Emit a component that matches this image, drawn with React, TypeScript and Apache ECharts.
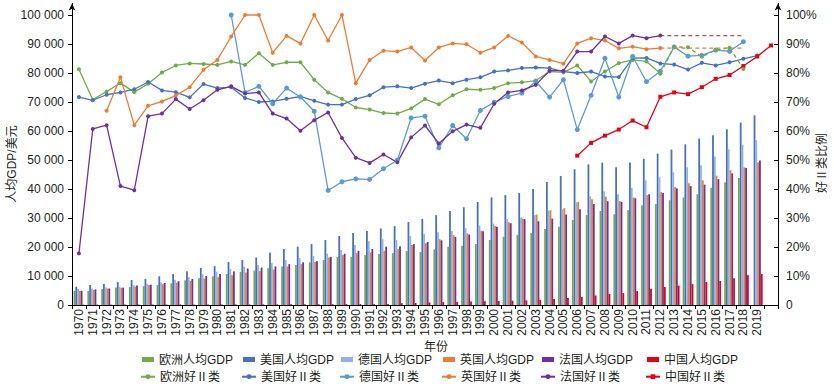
import React, { useEffect, useRef } from "react";
import * as echarts from "echarts";

const years = [
  "1970","1971","1972","1973","1974","1975","1976","1977","1978","1979",
  "1980","1981","1982","1983","1984","1985","1986","1987","1988","1989",
  "1990","1991","1992","1993","1994","1995","1996","1997","1998","1999",
  "2000","2001","2002","2003","2004","2005","2006","2007","2008","2009",
  "2010","2011","2012","2013","2014","2015","2016","2017","2018","2019",
  "",
];

// 人均GDP (美元), 1970-2019
const euGdp = [4900,4900,5500,6000,6200,6500,6900,7500,8500,9200,
  9900,10700,11400,11900,12700,13300,13800,14700,15500,16600,
  16600,17200,17600,17900,18600,18300,19200,20100,20400,21000,
  22400,23500,24200,24800,26200,27000,29300,31000,32400,31300,
  32700,34300,34800,36100,37100,38200,40400,42300,43800,null];
const usGdp = [6300,6900,7200,7900,8600,9000,9900,10700,11600,12800,
  13400,14800,15500,16400,18100,19300,20100,21000,22400,23800,
  24800,25500,26400,27200,28600,29700,31000,32400,33700,35500,
  37100,37900,38600,40000,42400,44500,46800,48500,49100,47500,
  49100,50400,52200,53600,55400,57400,58500,60600,62900,65400];
const deGdp = [5500,5700,6100,6300,6900,7300,7800,8700,9600,10600,
  11500,12400,13200,13800,14500,15500,16200,16900,17700,19000,
  20700,22000,22700,22400,23800,24500,25100,25500,26500,27400,
  28100,29600,30200,31000,32500,33000,35400,37500,39200,38200,
  40400,43000,44100,45800,47500,48200,51200,53700,55300,56800];
const ukGdp = [4800,5200,5700,5900,6400,6900,7200,7700,8300,9100,
  9600,10300,11200,11700,12300,13300,14100,14900,16400,17200,
  17900,18100,18700,19300,20700,21300,22700,24100,24700,25600,
  27300,28500,29800,31200,32700,33400,35600,36500,37400,35800,
  37100,37900,38900,40700,42000,43000,44600,46500,47500,49200];
const frGdp = [4900,5400,5700,6000,6700,7000,7600,8200,9000,10000,
  10700,11600,12600,12900,13300,14100,14700,15100,16600,17700,
  18700,19300,20100,20300,21000,21700,22300,23500,24300,25400,
  27000,28200,29600,28900,29800,31200,33000,34800,35800,35600,
  36800,38200,38600,40200,41000,41500,43400,45400,47200,49800];
const cnGdp = [110,120,130,150,150,160,160,180,160,180,
  190,200,200,220,250,290,280,250,280,310,
  320,330,370,600,700,900,1000,1100,1200,1300,
  1400,1500,1600,1800,2100,2400,2800,3300,3800,4100,
  4800,5600,6200,6700,7200,7900,8300,9200,10300,10700];

// 好Ⅱ类比例 (%)
const euGood = [81.3,70.8,73.6,76.5,73.4,76.3,80.2,82.6,83.3,83.1,
  82.8,84.0,82.8,86.8,82.8,83.7,83.7,77.7,73.3,71.1,
  68.1,67.4,66.2,66.0,67.8,71.0,69.2,72.3,74.4,74.2,
  74.8,76.5,76.8,77.4,80.5,80.2,82.6,77.1,80.5,83.4,
  84.5,84.0,79.8]; // 1970-2012
const euGoodDash = [79.8,89.0,88.9,85.6,87.9,88.7,81.4]; // 2012-2018
const usGood = [71.7,70.6,72.5,73.3,74.4,76.9,74.0,73.4,71.6,76.2,
  74.8,75.1,71.4,70.0,70.2,71.1,71.9,70.4,69.1,69.1,
  71.0,72.3,75.1,75.4,74.8,76.3,77.4,76.5,77.7,78.5,
  80.5,80.9,81.7,81.9,81.7,80.5,80.0,80.5,78.8,78.6,
  85.1,85.2,83.3,82.9,81.2,83.5,82.6,83.7,84.9,86.0]; // 1970-2019
const deGood = [100,73.3,75.4,69.4,74.8,71.7,66.8,39.5,42.5,
  43.5,43.3,47.0,49.9,64.5,65.1,54.2,61.9,57.3,67.1,
  69.9,71.9,73.1,77.1,71.7,77.7,60.5,72.3,85.1,71.7,
  85.7,77.0,80.6,89.0,85.8,86.1,87.9,87.5,90.8]; // 1981-2018
const ukGood = [67.0,78.5,62.0,68.7,70.2,72.2,75.1,81.1,
  84.5,92.6,100,100,87.0,92.8,90.2,100,91.2,100,
  76.5,84.5,87.7,87.4,88.8,84.3,88.8,90.2,89.9,87.0,
  88.8,92.8,90.5,85.7,84.5,83.2,90.2,92.0,91.2,88.5,
  89.1,88.2,88.6]; // 1972-2012
const ukGoodDash = [88.6,88.6,88.6,88.6,88.6,88.6,88.6]; // 2012-2018
const frGood = [17.8,60.7,62.0,41.0,39.6,65.1,66.0,71.0,67.6,70.6,
  74.2,75.4,72.9,73.3,66.0,64.3,60.1,63.7,66.4,57.6,
  50.8,49.0,51.9,49.2,57.8,61.9,55.7,59.9,62.2,61.1,
  69.4,73.3,74.0,75.9,80.8,80.8,87.4,87.4,92.6,90.2,
  92.9,92.0,92.9]; // 1970-2012
const frGoodDash = [92.9,92.9,92.9,92.9,92.9,92.9,92.9]; // 2012-2018
const cnGood = [51.5,55.9,58.4,60.5,63.6,61.3,71.8,73.3,72.7,75.1,
  78.0,79.3,82.4,85.7,89.5]; // 2006-2020

const leftTicks = [0,10000,20000,30000,40000,50000,60000,70000,80000,90000,100000];
const rightTicks = [0,10,20,30,40,50,60,70,80,90,100];

const barNames = ["欧洲人均GDP","美国人均GDP","德国人均GDP","英国人均GDP","法国人均GDP","中国人均GDP"];
const lineNames = ["欧洲好Ⅱ类","美国好Ⅱ类","德国好Ⅱ类","英国好Ⅱ类","法国好Ⅱ类","中国好Ⅱ类"];

const C = {
  green: "#70ad47",
  blue: "#4472c4",
  lblue: "#5b9bd5",
  lblueBar: "#8db4e2",
  orange: "#ed7d31",
  purple: "#7030a0",
  red: "#e60012",
};

const pad = (start: number, vals: (number | null)[]) => {
  const a: (number | null)[] = years.map(() => null);
  vals.forEach((v, i) => { a[start + i] = v; });
  return a;
};
const idx = (y: string) => years.indexOf(y);

const FONT = "'Liberation Sans', 'Noto Sans CJK SC', sans-serif";
const TXT = "#231f20";
const legendTextX = [159, 260, 358, 460, 559, 664];

export default function App() {
  const ref = useRef<HTMLDivElement>(null);
  useEffect(() => {
    document.body.style.margin = "0";
    if (!ref.current) return;
    const chart = echarts.init(ref.current, null, { renderer: "svg" });

    const bar = (name: string, data: (number | null)[], color: string) => ({
      name, type: "bar", yAxisIndex: 0, data: pad(0, data),
      barWidth: 1.8, barGap: "0%", itemStyle: { color },
    });
    const line = (name: string, data: (number | null)[], color: string, start: number, extra: any = {}) => ({
      name, type: "line", yAxisIndex: 1, data: pad(start, data),
      symbol: "circle", symbolSize: 4, connectNulls: false,
      lineStyle: { color, width: 1.3 }, itemStyle: { color }, z: 5, ...extra,
    });

    const legends: any[] = [];
    barNames.forEach((n, i) => legends.push({
      data: [n], left: legendTextX[i] - 5 - 12, top: 353.5, itemWidth: 12, itemHeight: 5,
      icon: "rect", padding: 0, itemGap: 0,
      textStyle: { fontSize: 12, color: TXT, fontFamily: FONT },
    }));
    lineNames.forEach((n, i) => legends.push({
      data: [n], left: legendTextX[i] - 5 - 14, top: 370.7, itemWidth: 14, itemHeight: 6,
      padding: 0, itemGap: 0,
      textStyle: { fontSize: 12, color: TXT, fontFamily: FONT },
    }));

    const option: any = {
      animation: false,
      textStyle: { fontFamily: FONT },
      grid: { left: 72, right: 56, top: 3.4, bottom: 81 },
      xAxis: {
        type: "category", data: years, boundaryGap: true,
        axisLine: { lineStyle: { color: "#000", width: 1 } },
        axisTick: { show: true, length: 4, lineStyle: { color: "#000" } },
        axisLabel: { rotate: 90, fontSize: 12, color: TXT, margin: 4, interval: 0 },
      },
      yAxis: [
        {
          type: "value", min: 0, max: 104000, position: "left",
          splitLine: { show: false },
          axisLine: { show: true, symbol: ["none", "arrow"], symbolSize: [5, 7], lineStyle: { color: "#000", width: 1 } },
          axisTick: { show: true, length: 4, customValues: leftTicks, lineStyle: { color: "#000" } },
          axisLabel: {
            customValues: leftTicks, fontSize: 12, color: TXT, margin: 8,
            formatter: (v: number) => (v % 10000 !== 0 ? "" : v === 0 ? "0" : `${v / 1000} 000`),
          },
        },
        {
          type: "value", min: 0, max: 104, position: "right",
          splitLine: { show: false },
          axisLine: { show: true, symbol: ["none", "arrow"], symbolSize: [5, 7], lineStyle: { color: "#000", width: 1 } },
          axisTick: { show: true, inside: true, length: 4, customValues: rightTicks, lineStyle: { color: "#000" } },
          axisLabel: {
            customValues: rightTicks, fontSize: 12, color: TXT, margin: 8,
            formatter: (v: number) => (v % 10 !== 0 ? "" : v === 0 ? "0" : `${v}%`),
          },
        },
      ],
      legend: legends,
      graphic: [
        { type: "text", x: 436, y: 347, style: { text: "年份", fontSize: 12, fill: TXT, align: "center", verticalAlign: "middle", fontFamily: FONT } },
        { type: "text", x: 12, y: 164, rotation: Math.PI / 2, style: { text: "人均GDP/美元", fontSize: 12, fill: TXT, align: "center", verticalAlign: "middle", fontFamily: FONT } },
        { type: "text", x: 822, y: 163, rotation: Math.PI / 2, style: { text: "好Ⅱ类比例", fontSize: 12, fill: TXT, align: "center", verticalAlign: "middle", fontFamily: FONT } },
      ],
      series: [
        bar(barNames[0], euGdp, C.green),
        bar(barNames[1], usGdp, C.blue),
        bar(barNames[2], deGdp, C.lblueBar),
        bar(barNames[3], ukGdp, C.orange),
        bar(barNames[4], frGdp, C.purple),
        bar(barNames[5], cnGdp, C.red),
        line(lineNames[0], euGood, C.green, idx("1970")),
        line(lineNames[1], usGood, C.blue, idx("1970")),
        line(lineNames[2], deGood, C.lblue, idx("1981"), { symbolSize: 5 }),
        line(lineNames[3], ukGood, C.orange, idx("1972")),
        line(lineNames[4], frGood, C.purple, idx("1970")),
        line(lineNames[5], cnGood, C.red, idx("2006"), { symbol: "rect", symbolSize: 4 }),
        line("欧洲好Ⅱ类(续)", euGoodDash, C.green, idx("2012"), { lineStyle: { color: C.green, width: 1.3, type: [4, 3] } }),
        line("英国好Ⅱ类(续)", ukGoodDash, C.orange, idx("2012"), { symbol: "none", lineStyle: { color: C.orange, width: 1.2, type: [4, 3] } }),
        line("法国好Ⅱ类(续)", frGoodDash, C.purple, idx("2012"), { symbol: "none", lineStyle: { color: "#b0506a", width: 1.2, type: [4, 3] } }),
      ],
    };
    chart.setOption(option);
    return () => chart.dispose();
  }, []);
  return <div ref={ref} style={{ width: 834, height: 386 }} />;
}
